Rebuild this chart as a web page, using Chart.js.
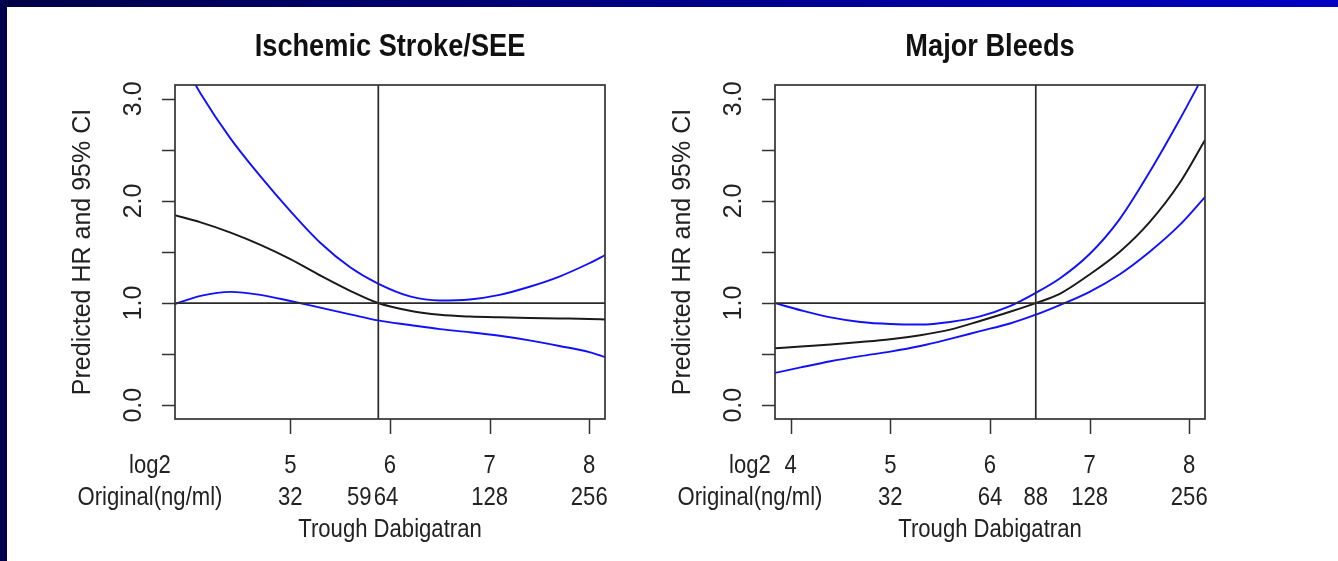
<!DOCTYPE html>
<html>
<head>
<meta charset="utf-8">
<script src="https://cdn.jsdelivr.net/npm/chart.js@4.4.1/dist/chart.umd.min.js"></script>
<style>
  html, body { margin: 0; padding: 0; width: 1338px; height: 561px; overflow: hidden; background: #fff; }
  #topbar { position: absolute; left: 0; top: 0; width: 1338px; height: 7px; background: linear-gradient(to right, #000048, #0000c4); }
  #leftbar { position: absolute; left: 0; top: 0; width: 7px; height: 561px; background: #00004c; }
  canvas { position: absolute; top: 0; }
</style>
</head>
<body>
<div id="topbar"></div>
<div id="leftbar"></div>
<canvas id="stroke" width="669" height="561" style="left:0"></canvas>
<canvas id="bleeds" width="669" height="561" style="left:669px"></canvas>
<script>
// x is log2(trough dabigatran), y is predicted HR
const strokeX     = [3.84, 4.1, 4.4, 4.7, 5.0, 5.3, 5.6, 5.88, 6.2, 6.5, 6.8, 7.1, 7.4, 7.7, 8.0, 8.16];
const strokeHR    = [1.86, 1.79, 1.69, 1.57, 1.43, 1.27, 1.12, 1.0, 0.925, 0.885, 0.868, 0.86, 0.855, 0.85, 0.845, 0.84];
const strokeUpper = [3.5, 3.05, 2.61, 2.24, 1.90, 1.59, 1.35, 1.19, 1.065, 1.025, 1.035, 1.08, 1.16, 1.26, 1.39, 1.47];
const strokeLower = [0.99, 1.07, 1.11, 1.08, 1.02, 0.955, 0.89, 0.83, 0.785, 0.745, 0.715, 0.68, 0.635, 0.58, 0.52, 0.47];

const bleedX     = [3.84, 4.1, 4.4, 4.7, 5.0, 5.3, 5.6, 5.9, 6.2, 6.46, 6.7, 7.0, 7.3, 7.6, 7.9, 8.16];
const bleedHR    = [0.557, 0.575, 0.595, 0.618, 0.645, 0.685, 0.74, 0.825, 0.915, 1.0, 1.09, 1.28, 1.50, 1.79, 2.17, 2.60];
const bleedUpper = [1.0, 0.93, 0.86, 0.815, 0.795, 0.79, 0.815, 0.87, 0.97, 1.10, 1.24, 1.48, 1.82, 2.28, 2.79, 3.26];
const bleedLower = [0.316, 0.37, 0.43, 0.48, 0.525, 0.58, 0.65, 0.725, 0.80, 0.886, 0.98, 1.11, 1.28, 1.50, 1.76, 2.04];

const strokeLog2Ticks = [5, 6, 7, 8];
const bleedLog2Ticks = [4, 5, 6, 7, 8];
const strokeOriginal = [32, 59, 64, 128, 256];
const bleedOriginal = [32, 64, 88, 128, 256];
const strokeCutoff = 59;
const bleedCutoff = 88;
const yTickMarks = [0, 0.5, 1, 1.5, 2, 2.5, 3];
const yTickLabels = [0, 1, 2, 3];

const xMin = 3.842, xMax = 8.158;
const yMin = -0.135, yMax = 3.135;

const FONT = '"Liberation Sans", Arial, sans-serif';

function squishText(ctx, text, x, y, font, sx) {
    ctx.save();
    ctx.translate(x, y);
    ctx.scale(sx, 1);
    ctx.font = font;
    ctx.fillText(text, 0, 0);
    ctx.restore();
}

// draws the R style box, ticks and labels
const rAxes = {
    id: 'rAxes',
    afterDatasetsDraw(chart, args, o) {
        const { ctx, chartArea: a } = chart;
        const x = chart.scales.x, y = chart.scales.y;
        ctx.save();
        ctx.strokeStyle = '#333';
        ctx.lineWidth = 1.7;
        ctx.strokeRect(a.left, a.top, a.right - a.left, a.bottom - a.top);

        ctx.lineWidth = 1.5;
        ctx.beginPath();
        yTickMarks.forEach(v => {
            const py = Math.round(y.getPixelForValue(v)) + 0.5;
            ctx.moveTo(a.left - 13, py); ctx.lineTo(a.left, py);
        });
        o.ticks.forEach(v => {
            const px = Math.round(x.getPixelForValue(v)) + 0.5;
            ctx.moveTo(px, a.bottom); ctx.lineTo(px, a.bottom + 15);
        });
        ctx.stroke();

        ctx.fillStyle = '#222';
        ctx.textAlign = 'center';
        ctx.textBaseline = 'middle';
        ctx.font = '25px ' + FONT;
        yTickLabels.forEach(v => {
            ctx.save();
            ctx.translate(a.left - 41, y.getPixelForValue(v));
            ctx.rotate(-Math.PI / 2);
            ctx.fillText(v.toFixed(1), 0, 0);
            ctx.restore();
        });
        ctx.save();
        ctx.translate(a.left - 92, (a.top + a.bottom) / 2);
        ctx.rotate(-Math.PI / 2);
        ctx.fillText('Predicted HR and 95% CI', 0, 0);
        ctx.restore();

        const f = '26px ' + FONT;
        const sx = 0.85;
        squishText(ctx, 'log2', a.left - 25, 466, f, sx);
        squishText(ctx, 'Original(ng/ml)', a.left - 25, 498, f, sx);
        o.ticks.forEach(v => squishText(ctx, String(v), x.getPixelForValue(v), 466, f, sx));
        o.original.forEach(v => {
            const shift = (o.shift && o.shift[v]) || 0;
            squishText(ctx, String(v), x.getPixelForValue(Math.log2(v)) + shift, 498, f, sx);
        });
        squishText(ctx, 'Trough Dabigatran', (a.left + a.right) / 2, 530, f, sx);

        ctx.fillStyle = '#111';
        squishText(ctx, o.title, (a.left + a.right) / 2, 47, 'bold 32px ' + FONT, sx);
        ctx.restore();
    }
};

function curve(xs, ys) {
    return xs.map((v, i) => ({ x: v, y: ys[i] }));
}

function makeChart(id, title, xs, hr, upper, lower, ticks, original, cutoff, padding, shift) {
    const cut = Math.log2(cutoff);
    const blue = { borderColor: '#1010ff', borderWidth: 1.9 };
    new Chart(document.getElementById(id), {
        type: 'line',
        data: {
            datasets: [
                { data: [{ x: xMin, y: 1 }, { x: xMax, y: 1 }], borderColor: '#2a2a2a', borderWidth: 1.7, tension: 0 },
                { data: [{ x: cut, y: yMin }, { x: cut, y: yMax }], borderColor: '#2a2a2a', borderWidth: 1.7, tension: 0 },
                { data: curve(xs, upper), ...blue, cubicInterpolationMode: 'monotone' },
                { data: curve(xs, lower), ...blue, cubicInterpolationMode: 'monotone' },
                { data: curve(xs, hr), borderColor: '#1a1a1a', borderWidth: 2, cubicInterpolationMode: 'monotone' }
            ]
        },
        options: {
            responsive: false,
            animation: false,
            devicePixelRatio: 1,
            elements: { point: { radius: 0 } },
            layout: { padding: padding },
            scales: {
                x: { type: 'linear', min: xMin, max: xMax, display: false },
                y: { type: 'linear', min: yMin, max: yMax, display: false }
            },
            plugins: {
                legend: { display: false },
                tooltip: { enabled: false },
                rAxes: { title: title, ticks: ticks, original: original, shift: shift }
            }
        },
        plugins: [rAxes]
    });
}

makeChart('stroke', 'Ischemic Stroke/SEE', strokeX, strokeHR, strokeUpper, strokeLower,
    strokeLog2Ticks, strokeOriginal, strokeCutoff,
    { left: 175, right: 64, top: 85, bottom: 142 }, { 59: -19, 64: -4 });
makeChart('bleeds', 'Major Bleeds', bleedX, bleedHR, bleedUpper, bleedLower,
    bleedLog2Ticks, bleedOriginal, bleedCutoff,
    { left: 106, right: 133, top: 85, bottom: 142 }, {});
</script>
</body>
</html>
